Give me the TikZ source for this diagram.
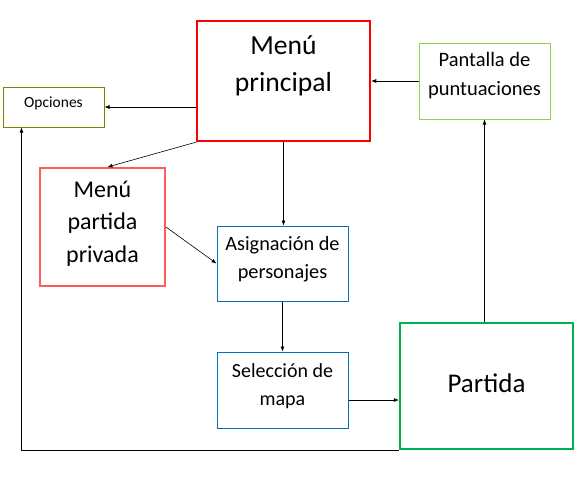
\documentclass[tikz,border=0pt]{standalone}
\usepackage{fontspec}
\setmainfont{Carlito}
\usetikzlibrary{arrows.meta}

\definecolor{rojo}{HTML}{FF0000}
\definecolor{rojoclaro}{HTML}{FF5B5B}
\definecolor{oliva}{HTML}{7F7F00}
\definecolor{verdeclaro}{HTML}{92D050}
\definecolor{azul}{HTML}{0070C0}
\definecolor{verde}{HTML}{00B050}

\tikzset{
  caja/.style={draw, inner xsep=0pt, inner ysep=0pt, align=center},
  flecha/.style={-{Latex[length=5pt,width=4pt]}, line width=0.6pt},
}

\begin{document}
\begin{tikzpicture}[x=1pt,y=-1pt]
    \useasboundingbox (0,0) rectangle (584,483);

    % Menus
    \node[caja, draw=rojo, line width=2.5pt, minimum width=173pt, text height=70pt, text depth=50pt,
          font=\fontsize{27.6}{37}\selectfont] (menu) at (283.5,81) {Menú\\principal};
    \node[caja, draw=oliva, line width=1pt, minimum width=101pt, text height=20pt, text depth=20pt,
          font=\fontsize{15.5}{19}\selectfont] (opciones) at (53.5,107) {Opciones};
    \node[caja, draw=verdeclaro, line width=1pt, minimum width=131pt, text height=52pt, text depth=24pt,
          font=\fontsize{20.5}{29}\selectfont] (puntos) at (484.5,81) {Pantalla de\\puntuaciones};
    \node[caja, draw=rojoclaro, line width=2pt, minimum width=125pt, text height=94pt, text depth=24pt,
          font=\fontsize{24}{32.5}\selectfont] (privada) at (102.5,227) {Menú\\partida\\privada};

    % Preparacion de la partida
    \node[caja, draw=azul, line width=1pt, minimum width=131pt, text height=52pt, text depth=23pt,
          font=\fontsize{20.3}{28}\selectfont] (asignacion) at (282.5,263.5) {Asignación de\\personajes};
    \node[caja, draw=azul, line width=1pt, minimum width=131pt, text height=53pt, text depth=23pt,
          font=\fontsize{20}{28}\selectfont] (mapa) at (282.5,390) {Selección de\\mapa};
    \node[caja, draw=verde, line width=2.5pt, minimum width=173pt, text height=69pt, text depth=57pt,
          font=\fontsize{27}{33}\selectfont] (partida) at (486.5,386) {Partida};

    % Flechas
    \draw[flecha] (menu.west |- opciones.east) -- (opciones.east);
    \draw[flecha] (menu.south west) -- ([xshift=5pt]privada.north);
    \draw[flecha] (menu.south) -- (menu.south |- asignacion.north);
    \draw[flecha] (privada.east) -- (asignacion.west);
    \draw[flecha] (asignacion.south) -- (mapa.north);
    \coordinate (salida) at ([yshift=-10pt]mapa.east);
    \draw[flecha] (salida) -- (salida -| partida.west);
    \draw[flecha] (puntos.south |- partida.north) -- (puntos.south);
    \draw[flecha] (puntos.west) -- (puntos.west -| menu.east);

    % Vuelta a opciones
    \draw[flecha] (partida.south west) -| ([xshift=19pt]opciones.south west);
\end{tikzpicture}
\end{document}
